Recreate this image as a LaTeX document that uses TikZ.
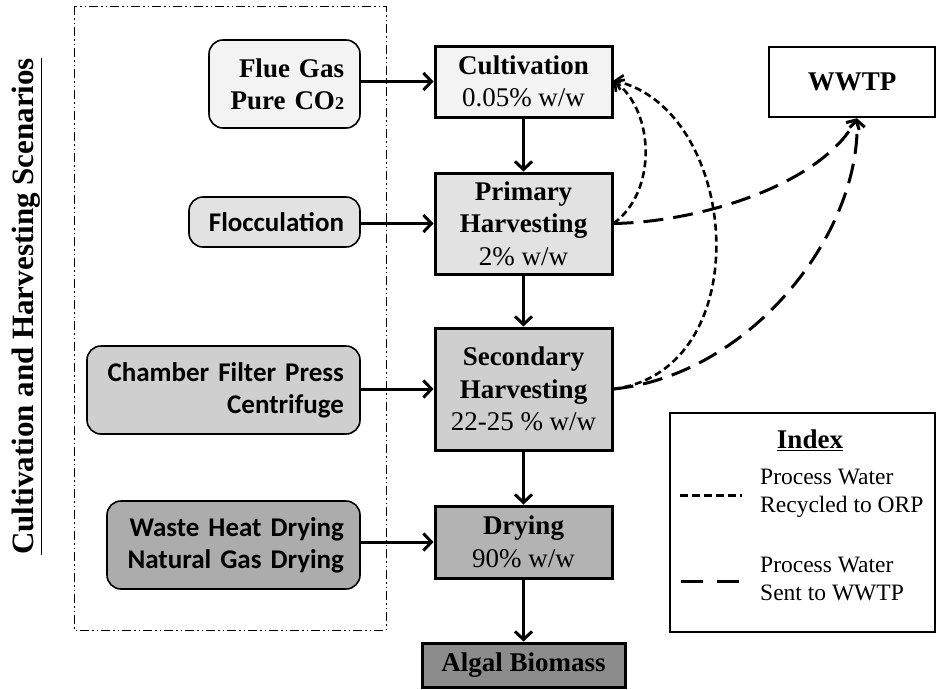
\documentclass[tikz,border=0pt]{standalone}
\usepackage{fontspec}
\setmainfont{Liberation Serif}
\newfontfamily\calfont{Carlito}
\usetikzlibrary{arrows.meta}
\definecolor{gA}{HTML}{F3F3F3}
\definecolor{gB}{HTML}{E2E2E2}
\definecolor{gC}{HTML}{CFCFCF}
\definecolor{gD}{HTML}{B3B3B3}
\definecolor{gE}{HTML}{8C8C8C}
\definecolor{gW}{HTML}{ACACAC}
\begin{document}
\begin{tikzpicture}[x=1pt,y=-1pt,
  mainbox/.style={draw, line width=3pt, align=center, inner sep=0pt, minimum width=177pt,
    font=\fontsize{27}{32.5}\selectfont},
  inbox/.style={draw, line width=1.6pt, rounded corners=14pt, align=right, inner xsep=16pt, inner ysep=0pt,
    font=\calfont\bfseries\fontsize{27}{32}\selectfont},
  serifin/.style={font=\bfseries\fontsize{27}{32}\selectfont},
  flow/.style={line width=3pt, -{Straight Barb[length=8pt,width=17pt]}},
  recyc/.style={line width=2.6pt, dash pattern=on 7pt off 4pt, -{Straight Barb[length=7pt,width=15pt]}},
  towwtp/.style={line width=3pt, dash pattern=on 20pt off 10pt, -{Straight Barb[length=7pt,width=15pt]}},
  legtext/.style={align=left, anchor=west, inner sep=0pt, font=\fontsize{23.5}{27.5}\selectfont}]
\path[use as bounding box] (0,0) rectangle (940,689);

% scenario frame and title
\draw[line width=1pt, dash pattern=on 9pt off 3pt on 1.5pt off 3pt on 1.5pt off 3pt] (74,6) rectangle (386,630);
\node[rotate=90, anchor=base, inner sep=0pt, font=\bfseries\fontsize{31}{36}\selectfont] (title) at (33,306.5)
  {\underline{Cultivation and Harvesting Scenarios}};

% input boxes
\node[inbox, serifin, fill=gA, minimum width=151pt, minimum height=88pt, text width=119pt] (flue) at (284.5,84)
  {Flue Gas\\Pure CO{\fontsize{18}{18}\selectfont 2}};
\node[inbox, fill=gB, minimum width=171pt, minimum height=50pt, text width=139pt] (floc) at (274.5,222) {Flocculation};
\node[inbox, fill=gC, minimum width=273pt, minimum height=88pt, text width=241pt] (cham) at (223.5,390)
  {Chamber Filter Press\\Centrifuge};
\node[inbox, fill=gW, minimum width=253pt, minimum height=88pt, text width=221pt] (waste) at (233.5,545)
  {Waste Heat Drying\\Natural Gas Drying};

% main process boxes
\node[mainbox, fill=gA, minimum height=71pt] (cult) at (523.5,81.5) {\textbf{Cultivation}\\0.05\% w/w};
\node[mainbox, fill=gB, minimum height=101pt] (prim) at (523.5,223.5) {\textbf{Primary}\\\textbf{Harvesting}\\2\% w/w};
\node[mainbox, fill=gC, minimum height=122pt] (sec) at (523.5,389) {\textbf{Secondary}\\\textbf{Harvesting}\\22-25 \% w/w};
\node[mainbox, fill=gD, minimum height=72pt] (dry) at (523.5,542) {\textbf{Drying}\\90\% w/w};
\node[mainbox, fill=gE, minimum width=203pt, minimum height=44pt] (bio) at (523.5,665) {\textbf{Algal Biomass}};

\node[draw, line width=2.6pt, minimum width=166pt, minimum height=70pt, inner sep=0pt,
  font=\bfseries\fontsize{27}{32}\selectfont] (wwtp) at (852,82) {WWTP};

% flows
\draw[flow] (flue.east |- cult.west) -- (cult.west);
\draw[flow] (floc.east |- prim.west) -- (prim.west);
\draw[flow] (cham.east |- sec.west) -- (sec.west);
\draw[flow] (waste.east |- dry.west) -- (dry.west);
\draw[flow] (cult) -- (prim);
\draw[flow] (prim) -- (sec);
\draw[flow] (sec) -- (dry);
\draw[flow] (dry) -- (bio);

% water recycle and discharge
\coordinate (wtip) at ([xshift=5pt]wwtp.south);
\draw[recyc] (prim.east) .. controls (657,192) and (655,112) .. ([yshift=1pt]cult.east);
\draw[recyc] (sec.east) .. controls (760,370) and (740,110) .. ([yshift=1pt]cult.east);
\draw[towwtp] (prim.east) .. controls (700,222) and (820,185) .. (wtip);
\draw[towwtp] (sec.east) .. controls (750,375) and (860,235) .. (wtip);

% index
\node[draw, line width=1.2pt, minimum width=265pt, minimum height=219pt, inner sep=0pt] (idx) at (802.5,522.5) {};
\node[inner sep=0pt, font=\bfseries\fontsize{27}{32}\selectfont] (idxt) at (810,440) {\underline{Index}};
\draw[line width=3pt, dash pattern=on 8pt off 4pt] (680,495) -- (742,495);
\draw[line width=3pt, dash pattern=on 22pt off 14pt] (681,581) -- (742,581);
\node[legtext] (l1) at (760,493.5) {Process Water\\Recycled to ORP};
\node[legtext] (l2) at (760,579) {Process Water\\Sent to WWTP};
\end{tikzpicture}
\end{document}
